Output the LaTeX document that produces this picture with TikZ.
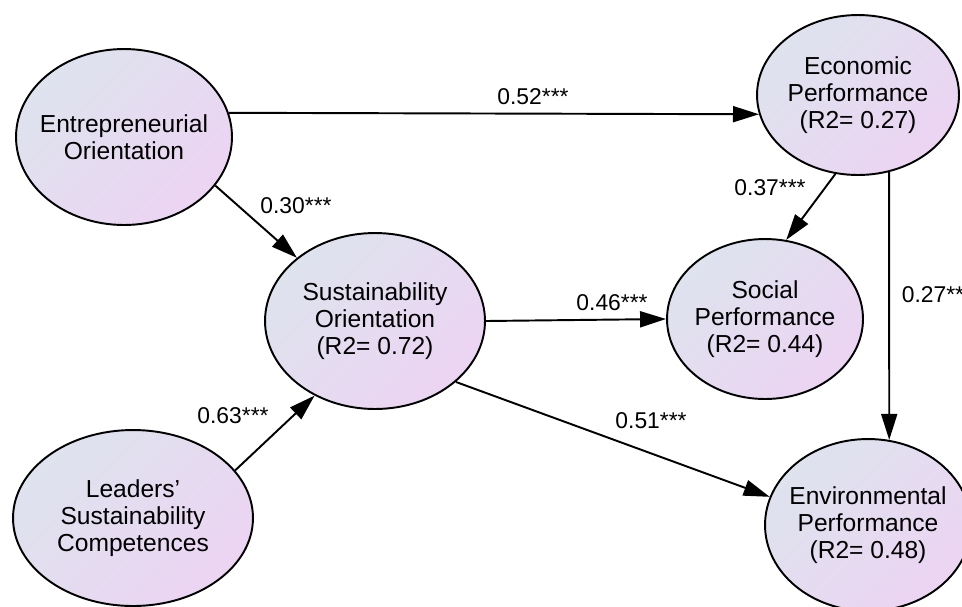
\documentclass[tikz,border=0pt]{standalone}
\usepackage{fontspec}
\setmainfont{Liberation Sans}
\usetikzlibrary{shapes.geometric,arrows.meta}

\definecolor{latentblue}{RGB}{222,227,238}
\definecolor{latentpink}{RGB}{236,212,243}

\begin{document}
\begin{tikzpicture}[
  x=0.02cm,
  y=-0.02cm,
  line width=1.1pt,
  latent/.style={ellipse, draw, inner sep=0pt, top color=latentblue,
    bottom color=latentpink, shading angle=45},
  lvtext/.style={align=center, font=\fontsize{14}{15.5}\selectfont},
  coef/.style={font=\fontsize{13}{15}\selectfont},
  path/.style={-{Triangle[length=0.52cm,width=0.32cm]}}
]

% White background
\useasboundingbox[fill=white] (0,0) rectangle (962,606);

% Latent variables
\node[latent, minimum width=4.32cm, minimum height=3.52cm,
  label={[lvtext]center:{Entrepreneurial\\Orientation}}] (eo) at (124,137) {};
\node[latent, minimum width=4.8cm, minimum height=3.52cm,
  label={[lvtext]center:{Leaders’\\Sustainability\\Competences}}] (lsc) at (133,518) {};
\node[latent, minimum width=4.4cm, minimum height=3.52cm,
  label={[lvtext]center:{Sustainability\\Orientation\\(R2= 0.72)}}] (so) at (375,321) {};
\node[latent, minimum width=4.04cm, minimum height=3.2cm,
  label={[lvtext]center:{Economic\\Performance\\(R2= 0.27)}}] (ep) at (858,95) {};
\node[latent, minimum width=3.92cm, minimum height=3.2cm,
  label={[lvtext]center:{Social\\Performance\\(R2= 0.44)}}] (socp) at (765,319) {};
\node[latent, minimum width=4.12cm, minimum height=3.44cm,
  label={[lvtext]center:{Environmental\\Performance\\(R2= 0.48)}}] (envp) at (868,525) {};

% Paths
\foreach \from/\to in {eo.13/ep.191, eo.332/so.141, lsc.25/so.231,
  so.east/socp.west, so.323/envp.164, ep.254/socp.75, ep.292/envp.76} {
  \draw[path] (\from) -- (\to);
}

% Path coefficients
\node[coef] (c52) at (533,97) {0.52***};
\node[coef] (c30) at (296,206) {0.30***};
\node[coef] (c63) at (233,416) {0.63***};
\node[coef] (c46) at (612,303) {0.46***};
\node[coef] (c51) at (651,421) {0.51***};
\node[coef] (c37) at (770,188) {0.37***};
\node[coef, anchor=west] (c27) at (895,295) {0.27***};

\end{tikzpicture}
\end{document}
